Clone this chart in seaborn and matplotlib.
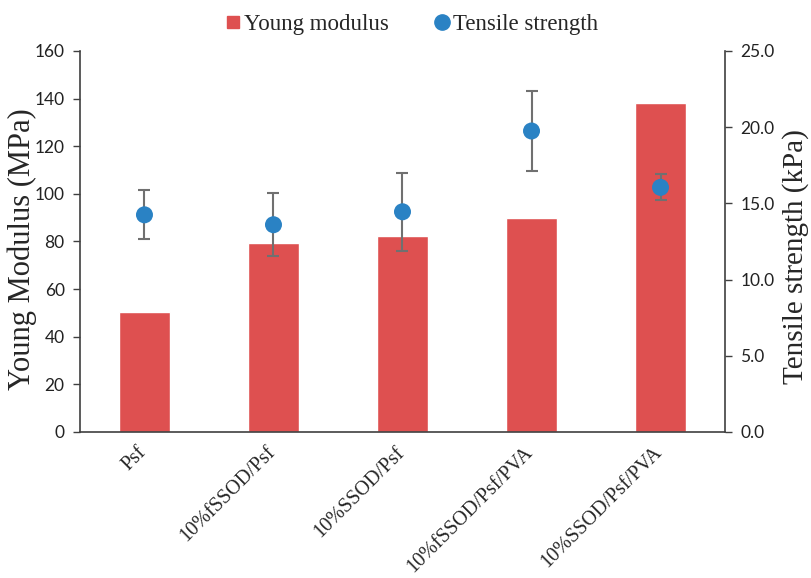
import matplotlib
matplotlib.use("Agg")
import matplotlib.pyplot as plt
import matplotlib.transforms as mtrans
from matplotlib.lines import Line2D
import seaborn as sns
import pandas as pd

samples = ["Psf", "10%fSSOD/Psf", "10%SSOD/Psf", "10%fSSOD/Psf/PVA", "10%SSOD/Psf/PVA"]
young_modulus = [50.2, 79.3, 82.4, 89.8, 138.3]
tensile_strength = [14.25, 13.6, 14.45, 19.75, 16.05]
tensile_err = [1.6, 2.05, 2.55, 2.65, 0.85]

bar_color = "#DE5050"
dot_color = "#2A82C4"
serif = "Liberation Serif"
sans = "Lato"

df = pd.DataFrame({"sample": samples, "young": young_modulus,
                   "tensile": tensile_strength, "err": tensile_err})

sns.set_style("white")
fig = plt.figure(figsize=(8.11, 5.78), dpi=100)
ax = fig.add_axes([0.0986, 0.2526, 0.7954, 0.6592])

sns.barplot(data=df, x="sample", y="young", color=bar_color, width=0.4,
            saturation=1, ax=ax)
ax.set_ylim(0, 160)
ax.set_yticks(range(0, 161, 20))
ax.set_xlim(-0.5, 4.5)

ax2 = ax.twinx()
ax2.errorbar(range(len(samples)), df["tensile"], yerr=df["err"], fmt="none",
             ecolor="#707070", elinewidth=1.5, capsize=4, capthick=1.5, zorder=2)
sns.scatterplot(x=range(len(samples)), y=df["tensile"], color=dot_color, s=150,
                edgecolor="none", ax=ax2, zorder=3)
ax2.set_ylim(0, 25)
ax2.set_yticks([0, 5, 10, 15, 20, 25])
ax2.set_yticklabels([f"{v:.1f}" for v in [0, 5, 10, 15, 20, 25]])
ax2.set_xlim(-0.5, 4.5)

for a in (ax, ax2):
    a.spines["top"].set_visible(False)
    for s in ["left", "right", "bottom"]:
        a.spines[s].set_color("#404040")
        a.spines[s].set_linewidth(1.2)
ax.spines["right"].set_visible(False)
ax2.spines["left"].set_visible(False)
ax2.spines["bottom"].set_visible(False)

ax.tick_params(axis="y", direction="out", length=5, width=1, color="#404040",
               labelsize=12.5, left=True, pad=6)
ax2.tick_params(axis="y", direction="out", length=5, width=1, color="#404040",
                labelsize=12.5, right=True, pad=6)
ax.tick_params(axis="x", length=0, pad=8)
for lbl in ax.get_yticklabels() + ax2.get_yticklabels():
    lbl.set_fontfamily(sans)
    lbl.set_color("#222222")

ax.set_xticks(range(len(samples)))
ax.set_xticklabels(samples, rotation=45, ha="right", rotation_mode="anchor",
                   fontfamily=serif, fontsize=14.5)
shift = mtrans.ScaledTranslation(-8 / 100, 0, fig.dpi_scale_trans)
for lbl in ax.get_xticklabels():
    lbl.set_transform(lbl.get_transform() + shift)
ax.set_xlabel("")
ax.set_ylabel("Young Modulus (MPa)", fontfamily=serif, fontsize=22)
ax.yaxis.set_label_coords(-0.067, 0.48)
ax2.set_ylabel("Tensile strength (kPa)", fontfamily=serif, fontsize=21)
ax2.yaxis.set_label_coords(1.089, 0.46)

handles = [Line2D([], [], marker="s", linestyle="none", color=bar_color,
                  markersize=9, label="Young modulus"),
           Line2D([], [], marker="o", linestyle="none", color=dot_color,
                  markersize=11, label="Tensile strength")]
fig.legend(handles=handles, loc="center", bbox_to_anchor=(0.507, 0.958), ncol=2,
           frameon=False, prop={"family": serif, "size": 16.5},
           handlelength=0.8, handletextpad=0.1, columnspacing=1.9)

fig.savefig("out.png", dpi=100)
